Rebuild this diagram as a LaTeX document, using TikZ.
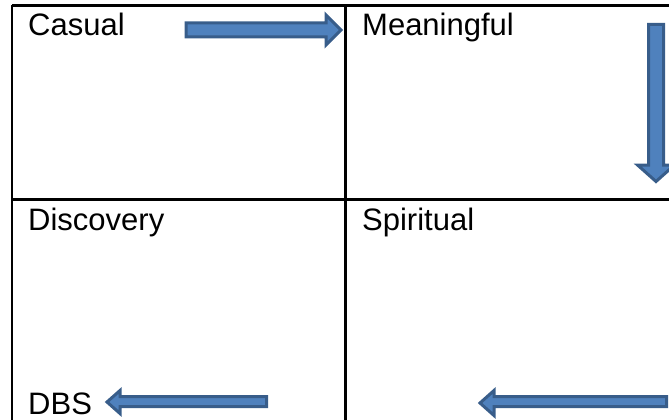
\documentclass[tikz,border=0pt]{standalone}
\usepackage{fontspec}
\setmainfont{Liberation Sans}
\definecolor{arrowfill}{RGB}{79,129,189}
\definecolor{arrowline}{RGB}{56,93,138}
\begin{document}
\begin{tikzpicture}[x=1pt,y=-1pt,
  grid/.style={line width=2.2pt,black},
  label/.style={anchor=base west,inner sep=0pt,font=\fontsize{31}{31}\selectfont},
  blockarrow/.style={fill=arrowfill,draw=arrowline,line width=3pt,line join=miter}]
\useasboundingbox (0,0) rectangle (669,420);
% table lines
\draw[grid] (12,5.5) -- (669,5.5);
\draw[grid] (12,199.5) -- (669,199.5);
\draw[grid] (12,5.5) -- (12,420);
\draw[grid] (345.5,5.5) -- (345.5,420);
% labels
\node[label] (casual) at (28,36) {Casual};
\node[label] (meaningful) at (362,36) {Meaningful};
\node[label] (discovery) at (28,230) {Discovery};
\node[label] (spiritual) at (362,230) {Spiritual};
\node[label] (dbs) at (28,414) {DBS};
% right arrow
\draw[blockarrow] (186,23) -- (326,23) -- (326,15) -- (341,30) -- (326,45) -- (326,37) -- (186,37) -- cycle;
% down arrow
\draw[blockarrow] (648.5,24.5) -- (663.5,24.5) -- (663.5,165) -- (674.5,165) -- (656,181.5) -- (637.5,165) -- (648.5,165) -- cycle;
% DBS arrow
\draw[blockarrow] (266.5,396.5) -- (120,396.5) -- (120,390.5) -- (107,402) -- (120,413.5) -- (120,406.5) -- (266.5,406.5) -- cycle;
% bottom right arrow
\draw[blockarrow] (666.5,396.5) -- (494,396.5) -- (494,390.5) -- (480,403) -- (494,415.5) -- (494,406.5) -- (666.5,406.5) -- cycle;
\end{tikzpicture}
\end{document}
